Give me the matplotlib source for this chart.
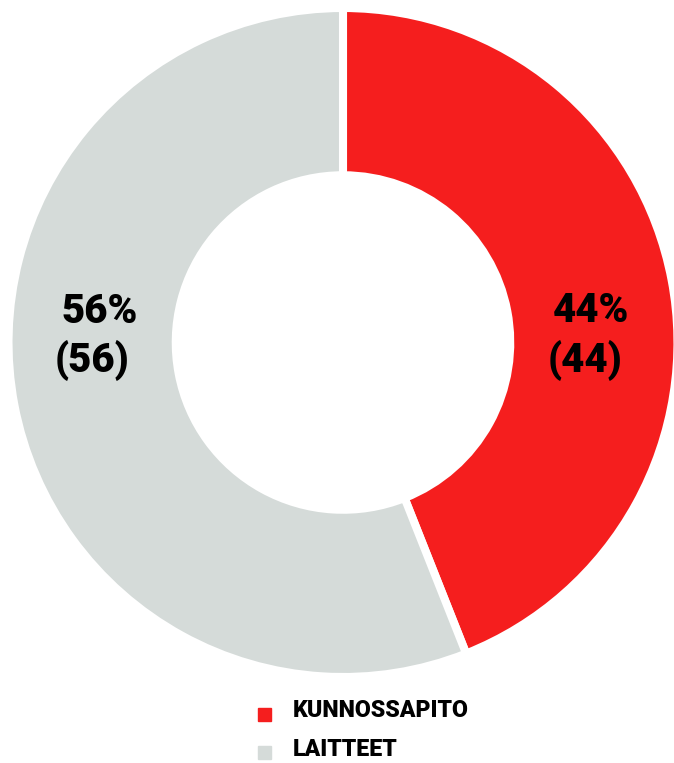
import matplotlib
matplotlib.use("Agg")
import matplotlib.pyplot as plt
from matplotlib.patches import Rectangle

categories = ["KUNNOSSAPITO", "LAITTEET"]
values = [44, 56]
colors = ["#F51E1E", "#D5DBD9"]

W, H = 674, 763
fig = plt.figure(figsize=(W / 100, H / 100), dpi=100)
cx, cy, R = 343, 342.5, 334.5
ax = fig.add_axes([(cx - R) / W, (H - cy - R) / H, 2 * R / W, 2 * R / H])
ax.pie(values, colors=colors, startangle=90, counterclock=False, radius=1,
       wedgeprops=dict(width=0.5, edgecolor="white", linewidth=5.8))
ax.set_xlim(-1, 1)
ax.set_ylim(-1, 1)
ax.set_aspect("equal")
ax.axis("off")

total = sum(values)
font = "Roboto"
# label positions (axes data units)
pos = [((0.741, 0.061), (0.723, -0.088)), ((-0.726, 0.058), (-0.751, -0.088))]
for v, (p1, p2) in zip(values, pos):
    ax.text(p1[0], p1[1], f"{round(100 * v / total)}%", ha="center", va="baseline",
            fontsize=29, fontweight="black", family=font, color="black")
    ax.text(p2[0], p2[1], f"({v})", ha="center", va="baseline",
            fontsize=29, fontweight="black", family=font, color="black")

# legend
sq_x, sq = 258, 13
rows = [(708, 717), (746, 756)]
for (top, base), lab, col in zip(rows, categories, colors):
    fig.patches.append(Rectangle((sq_x / W, 1 - (top + sq) / H), sq / W, sq / H,
                                 transform=fig.transFigure, color=col, zorder=3))
    fig.text(293 / W, 1 - base / H, lab, ha="left", va="baseline", fontsize=16.7,
             fontweight="black", family=font, color="black")

fig.savefig("out.png", dpi=100)
